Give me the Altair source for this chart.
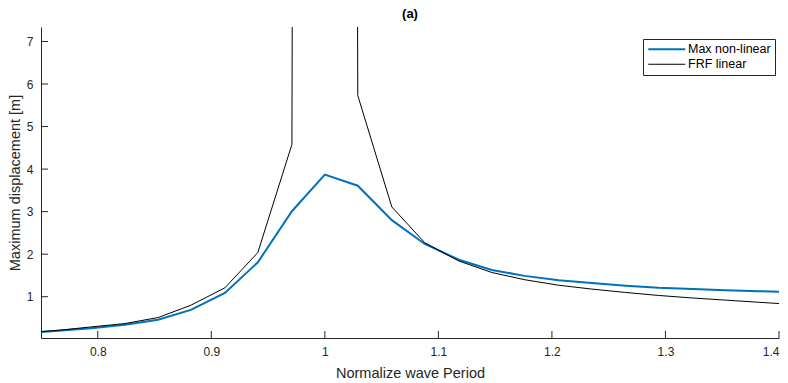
import altair as alt
import pandas as pd

# ---- data ----
x_vals = [0.75, 0.765, 0.794, 0.824, 0.853, 0.882, 0.912, 0.941, 0.971, 1.0,
          1.029, 1.059, 1.088, 1.118, 1.147, 1.176, 1.206, 1.235, 1.265, 1.294,
          1.324, 1.353, 1.382, 1.4]
max_nonlinear = [0.17, 0.20, 0.26, 0.34, 0.46, 0.69, 1.09, 1.81, 3.01, 3.87,
                 3.61, 2.80, 2.24, 1.87, 1.63, 1.49, 1.39, 1.32, 1.26, 1.21,
                 1.18, 1.15, 1.13, 1.12]
frf_linear = [0.18, 0.21, 0.29, 0.37, 0.51, 0.80, 1.21, 2.04, 4.58, 300.0,
              5.73, 3.11, 2.27, 1.84, 1.57, 1.40, 1.27, 1.18, 1.10, 1.03,
              0.97, 0.92, 0.87, 0.84]
series_names = ["Max non-linear", "FRF linear"]
series_colors = ["#0072BD", "#000000"]
series_widths = [2, 1]
x_ticks = [0.8, 0.9, 1.0, 1.1, 1.2, 1.3, 1.4]
y_ticks = [1, 2, 3, 4, 5, 6, 7]

rows = []
for name, vals in zip(series_names, [max_nonlinear, frf_linear]):
    for xv, yv in zip(x_vals, vals):
        rows.append({"x": xv, "y": yv, "series": name})
df = pd.DataFrame(rows)

FONT = "Liberation Sans"
TXT = "#262626"
xscale = alt.Scale(domain=[0.75, 1.4], nice=False, zero=False)
yscale = alt.Scale(domain=[0.03, 7.34], nice=False, zero=False)


def make_legend():
    return alt.Legend(title=None, orient="none", legendX=602, legendY=12,
                      symbolType="M-3.7,0H3.7", symbolSize=100,
                      symbolOffset=13.5, labelOffset=15,
                      labelFont=FONT, labelFontSize=12.5, labelColor="#000",
                      padding=4, rowPadding=2,
                      strokeColor="#262626", fillColor="white")


lines = alt.Chart(df).mark_line(clip=True).encode(
    x=alt.X("x:Q", scale=xscale,
            axis=alt.Axis(values=x_ticks, format="~g", title="Normalize wave Period",
                          tickSize=0, labelPadding=8, grid=False, titlePadding=9,
                          titleFontWeight="normal")),
    y=alt.Y("y:Q", scale=yscale,
            axis=alt.Axis(values=y_ticks, title="Maximum displacement [m]",
                          tickSize=0, labelPadding=8, grid=False, titlePadding=4,
                          titleFontWeight="normal")),
    color=alt.Color("series:N",
                    scale=alt.Scale(domain=series_names, range=series_colors),
                    sort=series_names, legend=make_legend()),
    strokeWidth=alt.StrokeWidth("series:N",
                                scale=alt.Scale(domain=series_names, range=series_widths),
                                sort=series_names, legend=make_legend()),
    detail="series:N",
)

xt = pd.DataFrame({"v": x_ticks})
yt = pd.DataFrame({"v": y_ticks})
xtick_marks = alt.Chart(xt).mark_rule(color=TXT, strokeWidth=1).encode(
    x=alt.X("v:Q", scale=xscale), y=alt.value(311), y2=alt.value(304))
ytick_marks = alt.Chart(yt).mark_rule(color=TXT, strokeWidth=1).encode(
    y=alt.Y("v:Q", scale=yscale), x=alt.value(0), x2=alt.value(7))

chart = alt.layer(lines, xtick_marks, ytick_marks).properties(
    width=738, height=311,
    title=alt.TitleParams("(a)", font=FONT, fontSize=13, fontWeight="bold",
                          color="#000", offset=6),
    autosize=alt.AutoSizeParams(type="none"),
    padding={"left": 41, "top": 27, "right": 9, "bottom": 45},
).configure(background="white").configure_view(stroke=None).configure_axis(
    domainColor=TXT, domainWidth=1, labelFont=FONT, labelFontSize=12,
    labelColor=TXT, titleFont=FONT, titleFontSize=14.5, titleColor=TXT,
    titleFontWeight="normal",
)

chart.save("out.html", embed_options={"renderer": "svg", "actions": False})
